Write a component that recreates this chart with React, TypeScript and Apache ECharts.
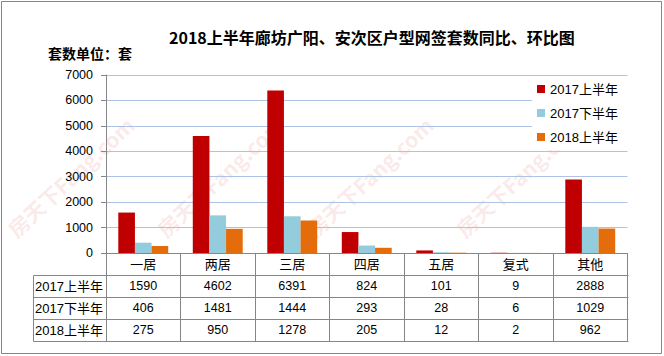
import React, { useEffect, useRef } from "react";
import * as echarts from "echarts";

const categories = ["一居", "两居", "三居", "四居", "五居", "复式", "其他"];
const seriesNames = ["2017上半年", "2017下半年", "2018上半年"];
const s2017H1 = [1590, 4602, 6391, 824, 101, 9, 2888];
const s2017H2 = [406, 1481, 1444, 293, 28, 6, 1029];
const s2018H1 = [275, 950, 1278, 205, 12, 2, 962];
const yTicks = [0, 1000, 2000, 3000, 4000, 5000, 6000, 7000];

const colors = ["#C00000", "#93CDDD", "#E46C0A"];
const FONT = '"Liberation Sans", "Noto Sans CJK SC", sans-serif';
const CJK = '"Noto Sans CJK SC", sans-serif';
const GREY = "#868686";

export default function App() {
  const ref = useRef<HTMLDivElement>(null);
  useEffect(() => {
    if (!ref.current) return;
    const chart = echarts.init(ref.current, null, { renderer: "svg" });
    const allSeries = [s2017H1, s2017H2, s2018H1];
    chart.setOption({
      animation: false,
      backgroundColor: "#fff",
      textStyle: { fontFamily: FONT },
      title: [
        {
          text: "2018上半年廊坊广阳、安次区户型网签套数同比、环比图",
          left: 164,
          top: 24,
          textStyle: { fontFamily: CJK, fontWeight: "bold", fontSize: 16, color: "#000" },
        },
        {
          text: "套数单位：套",
          left: 43,
          top: 41,
          textStyle: { fontFamily: CJK, fontWeight: "bold", fontSize: 14, color: "#000" },
        },
      ],
      legend: {
        orient: "vertical",
        left: 532,
        top: 77,
        padding: [5, 11, 6, 5],
        itemGap: 10,
        itemWidth: 8,
        itemHeight: 8,
        icon: "rect",
        backgroundColor: "#fff",
        z: 10,
        textStyle: { fontSize: 13, color: "#000", lineHeight: 14, fontFamily: FONT },
        data: seriesNames,
      },
      grid: { left: 106, right: 36.5, top: 75, bottom: 103, containLabel: false },
      xAxis: {
        type: "category",
        data: categories,
        axisLine: { show: true, lineStyle: { color: GREY, width: 1 } },
        axisTick: { show: true, length: 88, interval: 0, alignWithLabel: false, lineStyle: { color: GREY } },
        axisLabel: {
          interval: 0,
          margin: 0,
          color: "#000",
          formatter: (v: string, i: number) =>
            `{c|${v}}\n{v|${s2017H1[i]}}\n{v|${s2017H2[i]}}\n{v|${s2018H1[i]}}`,
          rich: {
            c: { fontSize: 13, lineHeight: 22, color: "#000", fontFamily: FONT },
            v: { fontSize: 12.5, lineHeight: 22, color: "#000", fontFamily: FONT },
          },
        },
      },
      yAxis: {
        type: "value",
        min: yTicks[0],
        max: yTicks[yTicks.length - 1],
        interval: 1000,
        axisLine: { show: true, lineStyle: { color: GREY } },
        axisTick: { show: true, length: 5, lineStyle: { color: GREY } },
        axisLabel: { fontSize: 12.5, color: "#000", margin: 13, formatter: (v: number) => String(v) },
        splitLine: { show: true, lineStyle: { color: "#AEC2E6", width: 1 } },
      },
      series: allSeries.map((d, i) => ({
        name: seriesNames[i],
        type: "bar",
        data: d,
        barGap: "0%",
        barCategoryGap: "33%",
        itemStyle: { color: colors[i] },
      })),
    });

    // table lines + row headers derived from axis scale
    const c0 = chart.convertToPixel({ xAxisIndex: 0 }, categories[0]) as number;
    const c1 = chart.convertToPixel({ xAxisIndex: 0 }, categories[1]) as number;
    const cN = chart.convertToPixel({ xAxisIndex: 0 }, categories[categories.length - 1]) as number;
    const bw = c1 - c0;
    const left = c0 - bw / 2;
    const right = cN + bw / 2;
    const y0 = chart.convertToPixel({ yAxisIndex: 0 }, 0) as number;
    const rowH = 22;
    const tableLeft = Math.round(left - 73) + 0.5;
    const graphics: any[] = [];

    // watermark (only instances that fit fully inside the picture)
    for (let c = 0; c < 4; c++) {
      graphics.push({
        type: "text",
        x: 18 + c * 149.5,
        y: 240,
        rotation: 0.75,
        z: -10,
        silent: true,
        style: {
          text: "房天下Fang.com",
          fill: "rgba(225,90,90,0.15)",
          font: `bold 21px ${CJK}`,
          textAlign: "left",
          textVerticalAlign: "bottom",
        },
      });
    }

    for (let k = 1; k <= 4; k++) {
      const y = Math.round(y0 + k * rowH) + 0.5;
      graphics.push({
        type: "line",
        shape: { x1: tableLeft, y1: y, x2: Math.round(right) + 0.5, y2: y },
        style: { stroke: GREY, lineWidth: 1 },
        z: 5,
      });
    }
    graphics.push({
      type: "line",
      shape: { x1: tableLeft, y1: Math.round(y0 + rowH) + 0.5, x2: tableLeft, y2: Math.round(y0 + 4 * rowH) + 0.5 },
      style: { stroke: GREY, lineWidth: 1 },
      z: 5,
    });
    seriesNames.forEach((n, i) => {
      graphics.push({
        type: "text",
        x: tableLeft + 1.5,
        y: y0 + rowH * (i + 1.5),
        z: 5,
        style: {
          text: n,
          fill: "#000",
          font: `13px ${FONT}`,
          textAlign: "left",
          textVerticalAlign: "middle",
        },
      });
    });
    // outer border
    graphics.push({
      type: "rect",
      shape: { x: 1.5, y: 1.5, width: 660, height: 352 },
      style: { fill: "none", stroke: GREY, lineWidth: 1 },
      z: 5,
    });
    chart.setOption({ graphic: graphics });

    return () => chart.dispose();
  }, []);
  return (
    <div
      ref={ref}
      style={{ position: "absolute", left: 0, top: 0, width: 664, height: 356 }}
    />
  );
}
